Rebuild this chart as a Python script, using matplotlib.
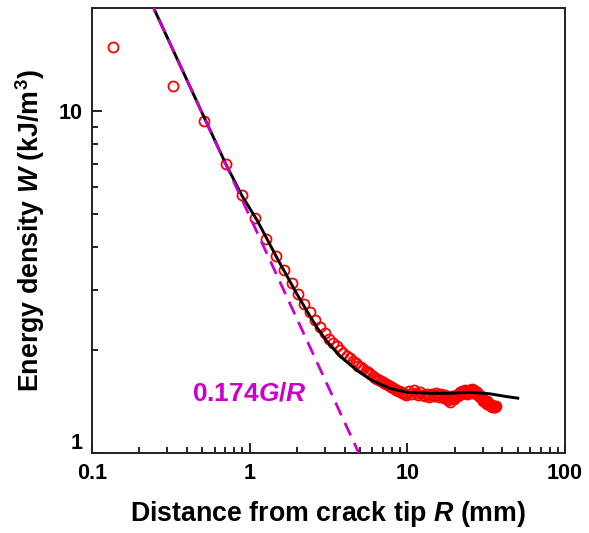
import numpy as np
import matplotlib
matplotlib.use("Agg")
import matplotlib.pyplot as plt
import matplotlib.transforms as mtransforms
from matplotlib.ticker import LogLocator, NullFormatter, FixedLocator, FixedFormatter

plt.rcParams['font.family'] = ['Liberation Sans', 'DejaVu Sans']
plt.rcParams['font.weight'] = 'bold'
plt.rcParams['axes.labelweight'] = 'bold'
plt.rcParams['mathtext.fontset'] = 'custom'
plt.rcParams['mathtext.rm'] = 'Liberation Sans:bold'
plt.rcParams['mathtext.bf'] = 'Liberation Sans:bold'
plt.rcParams['mathtext.it'] = 'Liberation Sans:italic:bold'

# measured energy density vs distance from crack tip
R_data = [0.136, 0.326, 0.516, 0.706, 0.896, 1.086, 1.276, 1.466, 1.656, 1.846,
          2.036, 2.226, 2.416, 2.606, 2.796, 2.986, 3.176, 3.366, 3.556, 3.746,
          3.936, 4.126, 4.316, 4.506, 4.696, 4.886, 5.076, 5.266, 5.456, 5.646,
          5.836, 6.026, 6.216, 6.406, 6.596, 6.786, 6.976, 7.166, 7.356, 7.546,
          7.736, 7.926, 8.116, 8.306, 8.496, 8.686, 8.876, 9.066, 9.256, 9.446,
          9.636, 9.826,
          10.21, 10.59, 10.97, 11.35, 11.73, 12.11, 12.49, 12.87, 13.25, 13.63,
          14.01, 14.39, 14.77, 15.15, 15.53, 15.91, 16.29, 16.67, 17.05, 17.43,
          17.81, 18.19, 18.57, 18.95, 19.33, 19.71, 20.09, 20.47, 20.85, 21.23,
          21.61, 21.99, 22.37, 22.75, 23.13, 23.51, 23.89, 24.27, 24.65, 25.03,
          25.41, 25.79, 26.17, 26.55, 26.93, 27.31, 27.69, 28.07, 28.45, 28.83,
          29.21, 29.59, 29.97, 30.35, 30.73, 31.11, 31.49, 31.87, 32.25, 32.63,
          33.01, 33.39, 33.77, 34.15, 34.53, 34.91, 35.29, 35.67, 36.05, 36.43]
W_data = [15.4, 11.8, 9.35, 7.00, 5.68, 4.85, 4.22, 3.76, 3.42, 3.15,
          2.92, 2.73, 2.58, 2.45, 2.34, 2.24, 2.16, 2.10, 2.05, 2.00,
          1.96, 1.92, 1.89, 1.86, 1.83, 1.80, 1.78, 1.76, 1.74, 1.72,
          1.70, 1.68, 1.66, 1.65, 1.63, 1.62, 1.61, 1.60, 1.59, 1.58,
          1.57, 1.56, 1.55, 1.54, 1.53, 1.52, 1.52, 1.51, 1.50, 1.50,
          1.49, 1.48,
          1.52, 1.49, 1.53, 1.50, 1.48, 1.51, 1.48, 1.47, 1.49, 1.46,
          1.48, 1.49, 1.47, 1.50, 1.48, 1.46, 1.49, 1.47, 1.45, 1.48,
          1.44, 1.43, 1.41, 1.45, 1.47, 1.44, 1.46, 1.48, 1.47, 1.49,
          1.51, 1.49, 1.52, 1.50, 1.53, 1.51, 1.49, 1.52, 1.53, 1.50,
          1.52, 1.54, 1.51, 1.53, 1.50, 1.49, 1.51, 1.48, 1.47, 1.46,
          1.47, 1.45, 1.44, 1.42, 1.43, 1.41, 1.40, 1.42, 1.39, 1.40,
          1.38, 1.39, 1.37, 1.38, 1.36, 1.37, 1.36, 1.37, 1.36, 1.37]

# fitted curve (black)
R_fit = [0.24, 0.521, 0.708, 0.894, 1.112, 1.29, 1.49, 1.72, 2.0, 2.31, 2.67,
         3.09, 3.74, 4.79, 6.05, 7.76, 9.94, 13.9, 18.6, 24.9, 33.4, 41.6, 50.2]
W_fit = [20.5, 9.46, 6.98, 5.65, 4.80, 4.22, 3.72, 3.30, 2.91, 2.60, 2.33,
         2.12, 1.92, 1.745, 1.625, 1.545, 1.505, 1.495, 1.495, 1.505, 1.49, 1.465, 1.447]

# near-tip asymptote W = 0.174 G / R
coef = 0.174
G = 28.3
R_asym = np.array([0.2, 6.0])
W_asym = coef * G / R_asym

magenta = '#cc00cc'

fig = plt.figure(figsize=(5.89, 5.33), dpi=100)
ax = fig.add_axes([0.1562, 0.15, 0.803, 0.835])

ax.plot(R_data, W_data, 'o', mfc='none', mec='red', mew=1.3, ms=7.2, zorder=2)
ax.plot(R_fit, W_fit, '-', color='black', lw=2.1, zorder=3)
ax.plot(R_asym, W_asym, color=magenta, lw=2.0, ls=(0, (5, 3)), zorder=4)

ax.set_xscale('log')
ax.set_yscale('log')
ax.set_xlim(0.1, 100)
ax.set_ylim(1, 20)

ax.xaxis.set_major_locator(FixedLocator([0.1, 1, 10, 100]))
ax.xaxis.set_major_formatter(FixedFormatter(['0.1', '1', '10', '100']))
ax.xaxis.set_minor_locator(LogLocator(base=10, subs=np.arange(2, 10)))
ax.xaxis.set_minor_formatter(NullFormatter())
ax.yaxis.set_major_locator(FixedLocator([1, 10]))
ax.yaxis.set_major_formatter(FixedFormatter(['1', '10']))
ax.yaxis.set_minor_locator(LogLocator(base=10, subs=np.arange(2, 10)))
ax.yaxis.set_minor_formatter(NullFormatter())

ax.tick_params(which='both', direction='in', top=False, right=False,
               labelsize=15.5, width=1.2, colors='black')
ax.tick_params(which='major', length=7, pad=7)
ax.tick_params(which='minor', length=4)
for s in ax.spines.values():
    s.set_linewidth(1.4)
    s.set_color('#222222')

# lift the "1" on the y axis so it clears the "0.1"
lbl = ax.yaxis.get_majorticklabels()[0]
lbl.set_transform(lbl.get_transform() + mtransforms.ScaledTranslation(0, 12 / 100, fig.dpi_scale_trans))

ax.set_xlabel('Distance from crack tip $R$ (mm)', fontsize=19.3, labelpad=11)
ax.set_ylabel('Energy density $W$ (kJ/m$^3$)', fontsize=19.3, labelpad=8)

ax.text(0.997, 1.496, '0.174$G/R$', color=magenta, fontsize=19, ha='center', va='center')

fig.savefig('out.png', dpi=100)
